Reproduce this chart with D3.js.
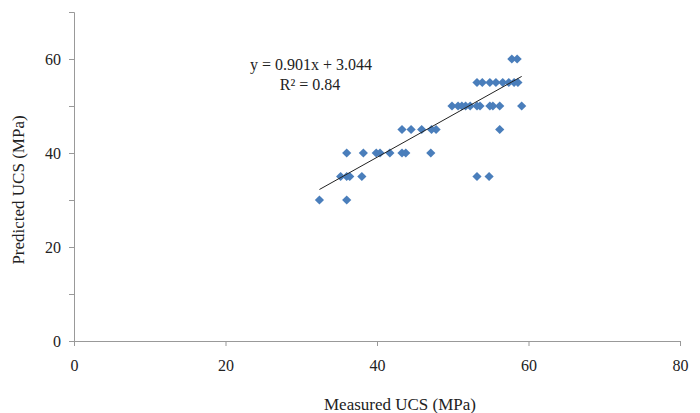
<!DOCTYPE html>
<html>
<head>
<meta charset="utf-8">
<script src="https://cdn.jsdelivr.net/npm/d3@7"></script>
<style>
  body { margin: 0; background: #fff; }
  svg text { font-family: "Liberation Serif", "DejaVu Serif", "Times New Roman", serif !important; fill: #222; }
</style>
</head>
<body>
<div id="chart"></div>
<script>
// measured vs predicted UCS (MPa)
var measured = [
  57.8, 58.5,
  53.2, 53.9, 54.9, 55.7, 56.6, 57.4, 58.1, 58.6,
  49.9, 50.7, 51.2, 51.7, 52.3, 53.2, 53.6, 54.9, 55.3, 56.2, 59.1,
  56.2,
  43.3, 44.5, 45.9, 47.2, 47.8,
  36.0, 38.2, 39.9, 40.4, 41.7, 43.3, 43.8, 47.1,
  35.2, 36.0, 36.4, 38.0, 53.2, 54.8,
  32.4, 36.0
];
var predicted = [
  60, 60,
  55, 55, 55, 55, 55, 55, 55, 55,
  50, 50, 50, 50, 50, 50, 50, 50, 50, 50, 50,
  45,
  45, 45, 45, 45, 45,
  40, 40, 40, 40, 40, 40, 40, 40,
  35, 35, 35, 35, 35, 35,
  30, 30
];
var slope = 0.901, intercept = 3.044;
var xTicks = [0, 20, 40, 60, 80];
var yTicks = [0, 10, 20, 30, 40, 50, 60, 70];
var yLabels = [0, 20, 40, 60];

var width = 700, height = 413;

var svg = d3.select("#chart").append("svg")
    .attr("width", width)
    .attr("height", height);

var xScale = d3.scaleLinear().domain([0, 80]).range([74, 680]);
var yScale = d3.scaleLinear().domain([0, 70]).range([341, 12]);

// x axis
var xAxis = d3.axisBottom(xScale).tickValues(xTicks).tickSize(5).tickPadding(14);
var gx = svg.append("g")
    .attr("transform", "translate(0," + yScale(0) + ")")
    .call(xAxis);

// y axis
var yAxis = d3.axisLeft(yScale).tickValues(yTicks).tickSize(5).tickPadding(8)
    .tickFormat(function(d){ return yLabels.indexOf(d) >= 0 ? d : ""; });
var gy = svg.append("g")
    .attr("transform", "translate(" + xScale(0) + ",0)")
    .call(yAxis);

[gx, gy].forEach(function(g){
    g.attr("font-family", null);
    g.select(".domain").attr("stroke", "#999");
    g.selectAll(".tick line").attr("stroke", "#999");
    g.selectAll(".tick text")
        .attr("font-size", 16)
        .attr("fill", "#222");
});

// axis titles
svg.append("text")
    .attr("x", 400)
    .attr("y", 410)
    .attr("text-anchor", "middle")
    .attr("font-size", 17)
    .text("Measured UCS (MPa)");

svg.append("text")
    .attr("transform", "translate(24," + 190 + ") rotate(-90)")
    .attr("text-anchor", "middle")
    .attr("font-size", 17)
    .text("Predicted UCS (MPa)");

// points
var pts = measured.map(function(m, i){ return [m, predicted[i]]; });
svg.append("g").selectAll("path")
    .data(pts)
    .enter()
    .append("path")
    .attr("d", "M0,-4.6L4.6,0L0,4.6L-4.6,0Z")
    .attr("fill", "#4a7ebb")
    .attr("transform", function(d){
        return "translate(" + xScale(d[0]) + "," + yScale(d[1]) + ")";
    });

// linear trendline over the measured range
var xMin = d3.min(measured), xMax = d3.max(measured);
svg.append("line")
    .attr("x1", xScale(xMin))
    .attr("y1", yScale(slope * xMin + intercept))
    .attr("x2", xScale(xMax))
    .attr("y2", yScale(slope * xMax + intercept))
    .attr("stroke", "#222")
    .attr("stroke-width", 1);

// equation
svg.append("text")
    .attr("x", 311)
    .attr("y", 70)
    .attr("text-anchor", "middle")
    .attr("font-size", 16)
    .text("y = 0.901x + 3.044");

svg.append("text")
    .attr("x", 310)
    .attr("y", 90)
    .attr("text-anchor", "middle")
    .attr("font-size", 16)
    .text("R² = 0.84");
</script>
</body>
</html>
